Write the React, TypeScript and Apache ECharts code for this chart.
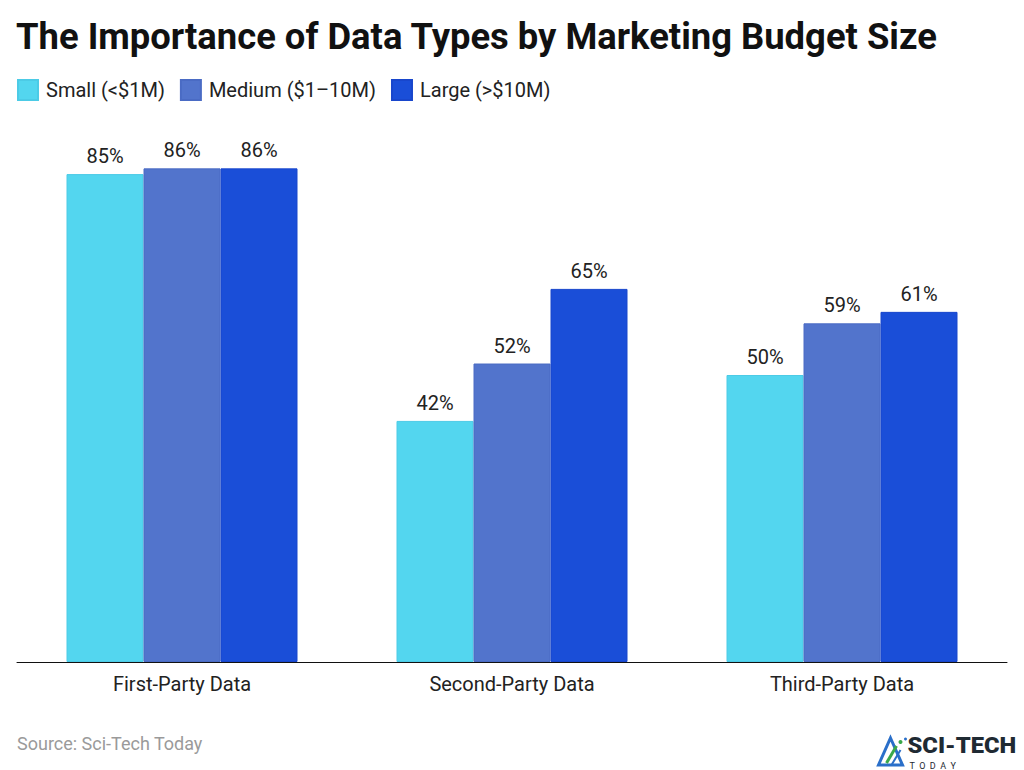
import React, { useEffect, useRef } from "react";
import * as echarts from "echarts";

const categories = ["First-Party Data", "Second-Party Data", "Third-Party Data"];
const seriesNames = ["Small (<$1M)", "Medium ($1–10M)", "Large (>$10M)"];
const smallValues = [85, 42, 50];
const mediumValues = [86, 52, 59];
const largeValues = [86, 65, 61];
const colors = ["#53D6EF", "#5274CC", "#1A4ED8"];
const borderColors = ["#4CCBE6", "#4A6BC4", "#1846CC"];

export default function App() {
  const ref = useRef<HTMLDivElement>(null);
  useEffect(() => {
    document.body.style.margin = "0";
    const chart = echarts.init(ref.current!, null, { renderer: "svg" });
    const values = [smallValues, mediumValues, largeValues];
    chart.setOption({
      animation: false,
      backgroundColor: "#ffffff",
      textStyle: { fontFamily: "Roboto" },
      title: {
        text: "The Importance of Data Types by Marketing Budget Size",
        left: 16,
        top: 18,
        padding: 0,
        textStyle: { fontFamily: "Roboto", fontWeight: "bold", fontSize: 36.4, color: "#111111" },
      },
      legend: {
        left: 17,
        top: 79,
        padding: 0,
        itemWidth: 20,
        itemHeight: 20,
        itemGap: 15,
        icon: "rect",
        textStyle: { fontFamily: "Roboto", fontSize: 20, color: "#222222", padding: [0, 0, 0, 3] },
        data: seriesNames,
      },
      grid: { left: 17, right: 17, top: 88, bottom: 108, containLabel: false },
      xAxis: {
        type: "category",
        data: categories,
        axisLine: { show: true, lineStyle: { color: "#111111", width: 1 } },
        axisTick: { show: false },
        axisLabel: { fontFamily: "Roboto", fontSize: 20, color: "#222222", margin: 12 },
      },
      yAxis: {
        type: "value",
        min: 0,
        max: 100,
        show: false,
        splitLine: { show: false },
      },
      series: values.map((v, i) => ({
        name: seriesNames[i],
        type: "bar",
        data: v,
        barGap: "0%",
        barCategoryGap: "30%",
        itemStyle: { color: colors[i], borderColor: borderColors[i], borderWidth: 1 },
        label: {
          show: true,
          position: "top",
          distance: 8,
          formatter: "{c}%",
          fontFamily: "Roboto",
          fontSize: 20,
          color: "#222222",
        },
      })),
      graphic: [
        {
          type: "text",
          left: 17,
          top: 734,
          style: { text: "Source: Sci-Tech Today", fontFamily: "Roboto", fontSize: 18, fill: "#9a9a9a" },
        },
        {
          type: "group",
          left: 876,
          top: 735,
          children: [
            { type: "polygon", shape: { points: [[12, 3], [24, 30], [0, 30]] }, style: { fill: "none", stroke: "#2a6fc9", lineWidth: 3 } },
            { type: "line", shape: { x1: 8, y1: 28, x2: 18, y2: 11 }, style: { stroke: "#3aa84a", lineWidth: 3 } },
            { type: "line", shape: { x1: 13, y1: 30, x2: 22, y2: 15 }, style: { stroke: "#2a6fc9", lineWidth: 2 } },
            { type: "circle", shape: { cx: 22, cy: 7, r: 2 }, style: { fill: "#3aa84a" } },
            { type: "circle", shape: { cx: 27, cy: 4, r: 1.5 }, style: { fill: "#2a6fc9" } },
            {
              type: "text",
              x: 29,
              y: 0,
              scaleX: 1.08,
              style: { text: "SCI-TECH", fontFamily: "Roboto", fontWeight: 900, fontSize: 22, fill: "#1f2a33" },
            },
            {
              type: "text",
              x: 31,
              y: 26,
              style: { text: "T  O  D  A  Y", fontFamily: "Roboto", fontSize: 9, fill: "#1f2a33" },
            },
          ],
        },
      ],
    });
    return () => chart.dispose();
  }, []);
  return <div ref={ref} style={{ width: 1024, height: 770 }} />;
}
